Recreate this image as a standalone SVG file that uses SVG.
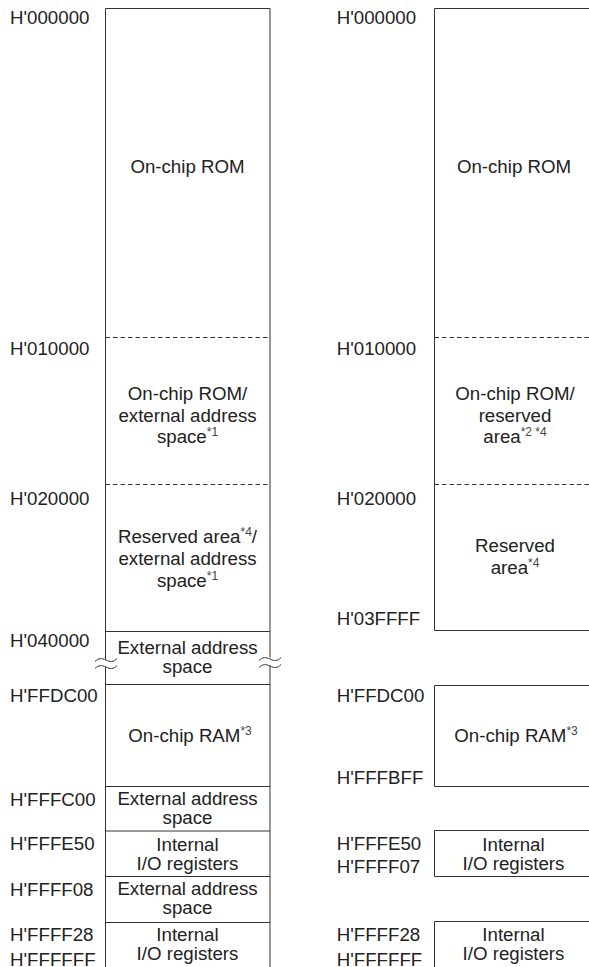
<svg xmlns="http://www.w3.org/2000/svg" width="589" height="967" viewBox="0 0 589 967">
<style>
text{font-family:"Liberation Sans",Arial,Helvetica,sans-serif;font-size:18.7px;fill:#222}
.c{text-anchor:middle}
.s{font-size:12px;fill:#444}
.ln{stroke:#333;stroke-width:1;fill:none}
.d{stroke:#333;stroke-width:1;stroke-dasharray:4.5 3;fill:none}
</style>
<rect width="589" height="967" fill="#fff"/>
<g id="frames">
<path class="ln" d="M105.5,659.5 V8.5 H270 V657.5 M105.5,667 V968 M270,665.5 V968"/>
<path class="ln" d="M105.5,631.5 H270 M105.5,684.5 H270 M105.5,786.5 H270 M105.5,831 H270 M105.5,876.5 H270 M105.5,922.5 H270"/>
<path class="d" d="M105.5,337.5 H270 M105.5,484.5 H270"/>
<path class="ln" d="M600,8.5 H434.5 V630.5 H600 M600,685.5 H434.5 V786.5 H600 M600,830.5 H434.5 V876.5 H600 M600,921.5 H434.5 V968"/>
<path class="d" d="M434.5,337.5 H600 M434.5,484.5 H600"/>
</g>
<g id="connectors">
<path class="ln" d="M95,661.5 c3.5,-3.5 7,-3.5 11,-1.5 s7.5,2.5 11,-1.5 M95,668.5 c3.5,-3.5 7,-3.5 11,-1.5 s7.5,2.5 11,-1.5"/>
<path class="ln" d="M259,660.5 c3.5,-3.5 7,-3.5 11,-1.5 s7.5,2.5 11,-1.5 M259,667.5 c3.5,-3.5 7,-3.5 11,-1.5 s7.5,2.5 11,-1.5"/>
</g>
<g id="L-rom">
<text x="10" y="24">H'000000</text>
<text class="c" x="187.5" y="172.5">On-chip ROM</text>
</g>
<g id="L-rom-ext">
<text x="10" y="355">H'010000</text>
<text class="c" x="187.5" y="400">On-chip ROM/</text>
<text class="c" x="187.5" y="421.5">external address</text>
<text class="c" x="187.5" y="443">space<tspan class="s" dy="-7">*1</tspan></text>
</g>
<g id="L-reserved-ext">
<text x="10" y="505">H'020000</text>
<text class="c" x="187.5" y="542.5">Reserved area<tspan class="s" dy="-7">*4</tspan><tspan dy="7">/</tspan></text>
<text class="c" x="187.5" y="564.5">external address</text>
<text class="c" x="187.5" y="586.5">space<tspan class="s" dy="-7">*1</tspan></text>
</g>
<g id="L-ext1">
<text x="10" y="646.5">H'040000</text>
<text class="c" x="187.5" y="653.5">External address</text>
<text class="c" x="187.5" y="673">space</text>
</g>
<g id="L-ram">
<text x="10" y="701.5">H'FFDC00</text>
<text class="c" x="190" y="741.5">On-chip RAM<tspan class="s" dy="-7">*3</tspan></text>
</g>
<g id="L-ext2">
<text x="10" y="806">H'FFFC00</text>
<text class="c" x="187.5" y="805">External address</text>
<text class="c" x="187.5" y="823.5">space</text>
</g>
<g id="L-io1">
<text x="10" y="849.5">H'FFFE50</text>
<text class="c" x="187.5" y="851">Internal</text>
<text class="c" x="187.5" y="869.5">I/O registers</text>
</g>
<g id="L-ext3">
<text x="10" y="895.5">H'FFFF08</text>
<text class="c" x="187.5" y="895">External address</text>
<text class="c" x="187.5" y="913.5">space</text>
</g>
<g id="L-io2">
<text x="10" y="940.5">H'FFFF28</text>
<text x="10" y="965.5">H'FFFFFF</text>
<text class="c" x="187.5" y="941">Internal</text>
<text class="c" x="187.5" y="960">I/O registers</text>
</g>
<g id="R-rom">
<text x="336.7" y="24">H'000000</text>
<text class="c" x="514" y="172.5">On-chip ROM</text>
</g>
<g id="R-rom-reserved">
<text x="336.7" y="355">H'010000</text>
<text class="c" x="515" y="400">On-chip ROM/</text>
<text class="c" x="515" y="421.5">reserved</text>
<text class="c" x="515" y="443">area<tspan class="s" dy="-7">*2 *4</tspan></text>
</g>
<g id="R-reserved">
<text x="336.7" y="505">H'020000</text>
<text x="336.7" y="625">H'03FFFF</text>
<text class="c" x="515" y="552">Reserved</text>
<text class="c" x="515" y="574">area<tspan class="s" dy="-7">*4</tspan></text>
</g>
<g id="R-ram">
<text x="336.7" y="701.5">H'FFDC00</text>
<text x="336.7" y="783.5">H'FFFBFF</text>
<text class="c" x="516" y="742">On-chip RAM<tspan class="s" dy="-7">*3</tspan></text>
</g>
<g id="R-io1">
<text x="336.7" y="849.5">H'FFFE50</text>
<text x="336.7" y="872.5">H'FFFF07</text>
<text class="c" x="513.5" y="851">Internal</text>
<text class="c" x="513.5" y="869.5">I/O registers</text>
</g>
<g id="R-io2">
<text x="336.7" y="940.5">H'FFFF28</text>
<text x="336.7" y="965.5">H'FFFFFF</text>
<text class="c" x="513.5" y="941">Internal</text>
<text class="c" x="513.5" y="960">I/O registers</text>
</g>
</svg>
